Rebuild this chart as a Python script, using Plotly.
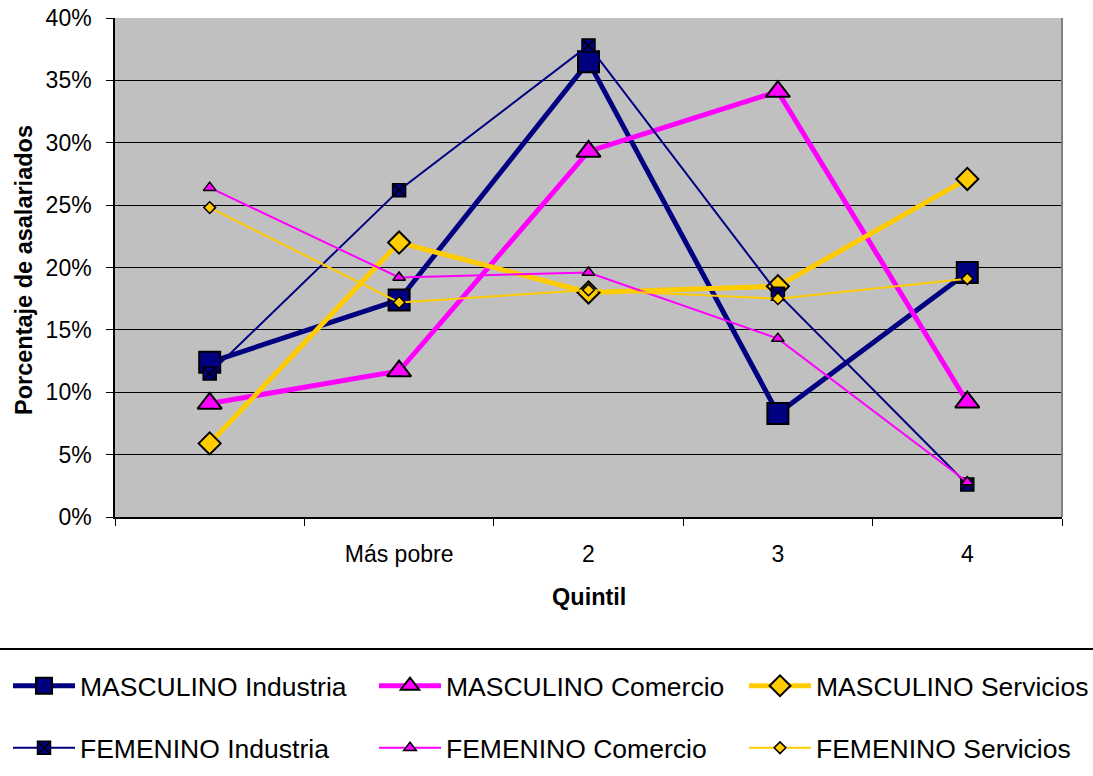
import plotly.graph_objects as go

quintiles = [" ", "Más pobre", "2", "3", "4"]

masc_industria = [0.124, 0.174, 0.365, 0.083, 0.196]
masc_comercio = [0.091, 0.117, 0.293, 0.341, 0.092]
masc_servicios = [0.059, 0.220, 0.180, 0.185, 0.271]
fem_industria = [0.115, 0.262, 0.378, 0.179, 0.026]
fem_comercio = [0.264, 0.192, 0.196, 0.143, 0.028]
fem_servicios = [0.248, 0.172, 0.182, 0.175, 0.191]

y_ticks = [0, 0.05, 0.10, 0.15, 0.20, 0.25, 0.30, 0.35, 0.40]

NAVY = "#000080"
MAG = "#FF00FF"
GOLD = "#FFCC00"
FONT = "Liberation Sans, Arial, sans-serif"

W, H = 1093, 776
L, R, T, B = 115, 31, 18, 259
pw, ph = W - L - R, H - T - B


def px_x(X):
    return (X - L) / pw


def px_y(Y):
    return (H - B - Y) / ph


# legend slot positions (pixels): column left edges and row centres
col_x = [8, 374, 744]
row_y = [686, 748]

series = [
    ("MASCULINO Industria", masc_industria, NAVY, 5, "square", 21, 2),
    ("MASCULINO Comercio", masc_comercio, MAG, 5, "triangle-up", 21, 2),
    ("MASCULINO Servicios", masc_servicios, GOLD, 5, "diamond", 17, 2),
    ("FEMENINO Industria", fem_industria, NAVY, 2, "square-x", 13, 1.5),
    ("FEMENINO Comercio", fem_comercio, MAG, 2, "triangle-up", 11, 1.5),
    ("FEMENINO Servicios", fem_servicios, GOLD, 2, "diamond", 9, 1.5),
]

fig = go.Figure()
legends = {}
for i, (name, vals, col, lw, sym, ms, mlw) in enumerate(series):
    key = "legend" if i == 0 else f"legend{i + 1}"
    fig.add_trace(go.Scatter(
        x=quintiles, y=vals, name=name, mode="lines+markers",
        line=dict(color=col, width=lw),
        marker=dict(symbol=sym, size=ms, color=col, line=dict(color="black", width=mlw)),
        legend=key,
    ))
    legends[key] = dict(
        orientation="h", x=px_x(col_x[i % 3]), xanchor="left",
        y=px_y(row_y[i // 3]), yanchor="middle",
        font=dict(size=26.5), bgcolor="rgba(0,0,0,0)", itemwidth=62,
    )

fig.update_layout(
    width=W, height=H,
    margin=dict(l=L, r=R, t=T, b=B, autoexpand=False),
    paper_bgcolor="white",
    plot_bgcolor="#C0C0C0",
    font=dict(family=FONT, size=23, color="black"),
    showlegend=True,
    xaxis=dict(
        type="category", categoryorder="array", categoryarray=quintiles,
        range=[-0.5, 4.5], tickson="boundaries", ticks="outside", ticklen=7,
        tickcolor="black", tickwidth=1, showline=True, linecolor="black", linewidth=1.5,
        showgrid=False, ticklabelstandoff=16, tickfont=dict(size=23),
    ),
    yaxis=dict(
        range=[0, 0.4], tickvals=y_ticks, tickformat=".0%", ticks="outside", ticklen=7,
        tickcolor="black", showline=True, linecolor="black", linewidth=1.5,
        showgrid=True, gridcolor="black", gridwidth=1, zeroline=False,
        ticklabelstandoff=10, tickfont=dict(size=23),
    ),
    shapes=[
        dict(type="line", xref="paper", yref="paper", x0=1, x1=1, y0=0, y1=1,
             line=dict(color="#808080", width=2)),
        dict(type="line", xref="paper", yref="paper", x0=px_x(-5), x1=px_x(W + 5),
             y0=px_y(649), y1=px_y(649), line=dict(color="black", width=2)),
    ],
    annotations=[
        dict(text="<b>Quintil</b>", xref="paper", yref="paper", x=0.5, y=px_y(597),
             xanchor="center", yanchor="middle", showarrow=False, font=dict(size=23.5)),
        dict(text="<b>Porcentaje de asalariados</b>", xref="paper", yref="paper",
             x=px_x(24), y=px_y(270), textangle=-90, xanchor="center", yanchor="middle",
             showarrow=False, font=dict(size=23.5)),
    ],
)
fig.update_layout(**legends)

fig.write_html("out.html", config={"displayModeBar": False},
               post_script="document.body.style.margin='0';")
